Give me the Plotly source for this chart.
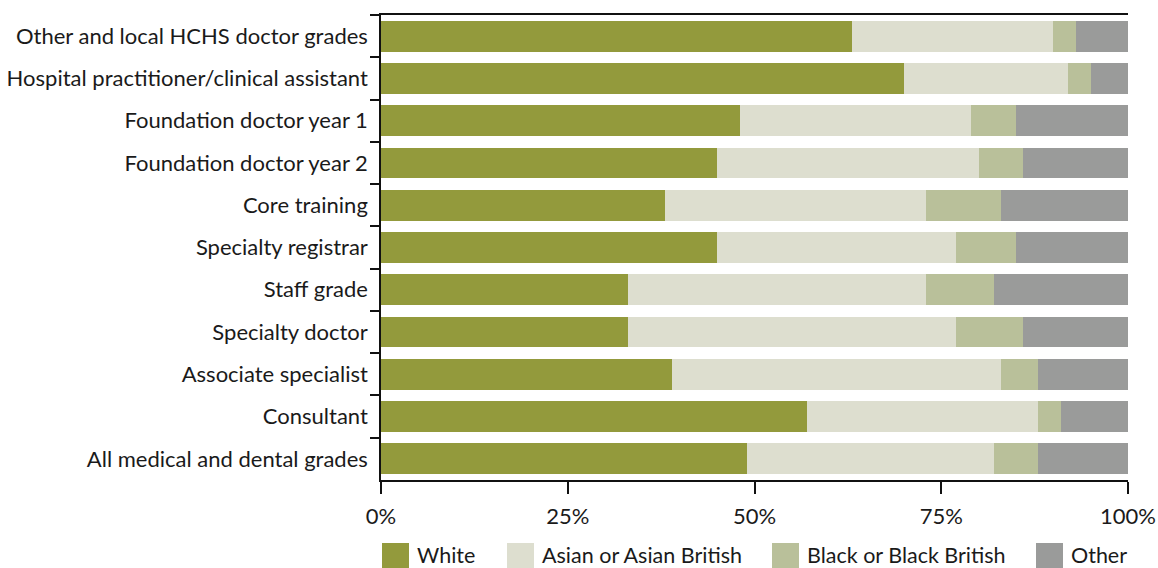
import plotly.graph_objects as go

grades = [
    "Other and local HCHS doctor grades",
    "Hospital practitioner/clinical assistant",
    "Foundation doctor year 1",
    "Foundation doctor year 2",
    "Core training",
    "Specialty registrar",
    "Staff grade",
    "Specialty doctor",
    "Associate specialist",
    "Consultant",
    "All medical and dental grades",
]

white = [63, 70, 48, 45, 38, 45, 33, 33, 39, 57, 49]
asian = [27, 22, 31, 35, 35, 32, 40, 44, 44, 31, 33]
black = [3, 3, 6, 6, 10, 8, 9, 9, 5, 3, 6]
other = [7, 5, 15, 14, 17, 15, 18, 14, 12, 9, 12]

series_names = ["White", "Asian or Asian British", "Black or Black British", "Other"]
series_values = [white, asian, black, other]
colors = ["#939a3c", "#dddecf", "#b9c09a", "#9a9b9a"]

x_ticks = [0, 25, 50, 75, 100]
x_tick_labels = ["0%", "25%", "50%", "75%", "100%"]

FONT = "Lato, 'Open Sans', sans-serif"
SIZE = 22
TEXT = "#1a1a1a"

fig = go.Figure()
for name, vals, col in zip(series_names, series_values, colors):
    fig.add_trace(go.Bar(
        y=grades, x=vals, name=name, orientation="h",
        marker=dict(color=col, line=dict(width=0)),
        showlegend=False, hoverinfo="skip",
    ))

fig.update_layout(
    barmode="stack",
    bargap=0.27,
    width=1158, height=568,
    margin=dict(l=381, r=30, t=15, b=88),
    paper_bgcolor="white", plot_bgcolor="white",
    font=dict(family=FONT, size=SIZE, color=TEXT),
)

fig.update_xaxes(
    range=[0, 100], tickvals=x_ticks, ticktext=x_tick_labels,
    showgrid=False, zeroline=False, automargin=False,
    showline=True, linecolor="#111", linewidth=1.5, mirror=True,
    ticks="outside", ticklen=12, tickwidth=1.5, tickcolor="#111",
    ticklabelstandoff=4,
    tickfont=dict(family=FONT, size=SIZE, color=TEXT),
)
fig.update_yaxes(
    autorange="reversed", tickson="boundaries",
    showgrid=False, zeroline=False, automargin=False,
    showline=True, linecolor="#111", linewidth=1.5,
    ticks="outside", ticklen=9, tickwidth=1.5, tickcolor="#111",
    ticklabelstandoff=7,
    tickfont=dict(family=FONT, size=SIZE, color=TEXT),
)

# Custom legend row below the axis
legend_x = [382, 507, 772, 1036]
for name, col, lx in zip(series_names, colors, legend_x):
    fig.add_shape(type="rect", xref="paper", yref="paper",
                  x0=(lx - 381) / 747, x1=(lx + 27 - 381) / 747,
                  y0=(480 - 568) / 465, y1=(480 - 543) / 465,
                  fillcolor=col, line=dict(width=0))
    fig.add_annotation(text=name, xref="paper", yref="paper",
                       x=(lx + 33 - 381) / 747, y=(480 - 555) / 465,
                       xanchor="left", yanchor="middle", showarrow=False,
                       font=dict(family=FONT, size=21.5, color=TEXT))

fig.write_html("out.html")
